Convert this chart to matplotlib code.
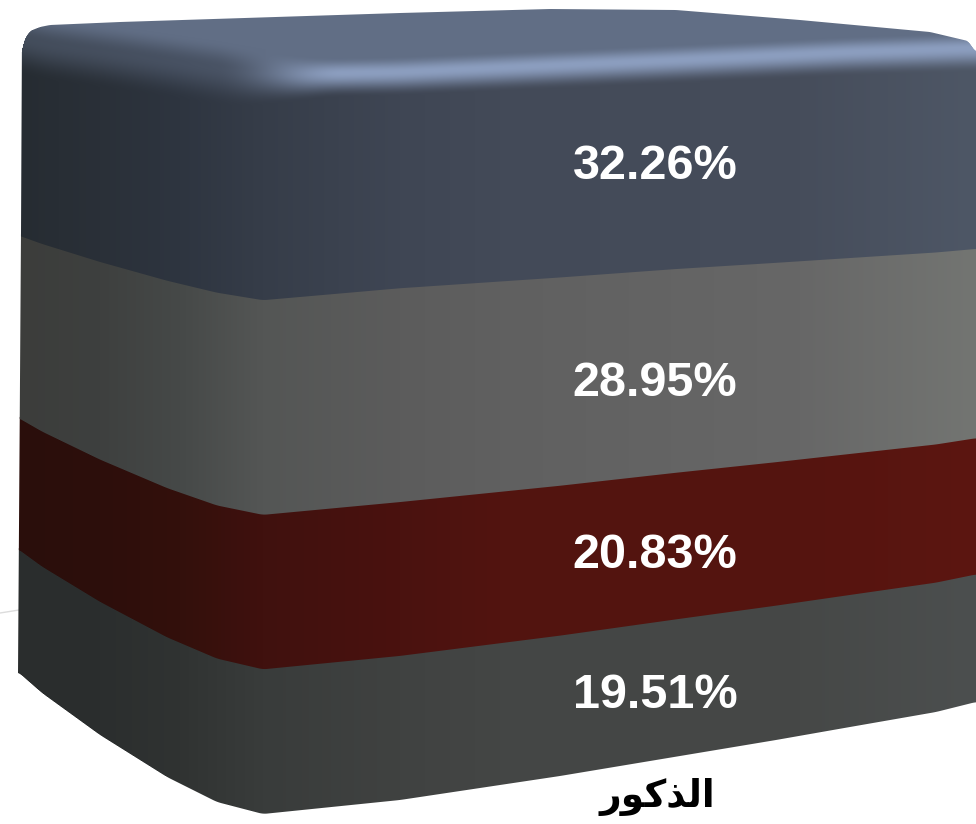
import numpy as np
import matplotlib
matplotlib.use('Agg')
import matplotlib.pyplot as plt
from matplotlib.colors import to_rgb

# bottom to top
series = ['s4', 's3', 's2', 's1']
values = [19.51, 20.83, 28.95, 32.26]
labels = ['19.51%', '20.83%', '28.95%', '32.26%']
# shaped arabic forms, in visual order because matplotlib does no shaping here
category = '\ufead\ufeee\ufedb\ufeac\ufedf\ufe8d'

W, H = 976, 824

# outline of the box in image pixels
bottom_x = [18, 42, 100, 167, 217, 263, 400, 560, 776, 850, 936, 976]
bottom_y = [672, 693, 735, 777, 802, 814, 800, 776, 740, 727, 712, 702]
top_x = [18, 263, 400, 676, 976]
top_y = [32, 61, 50, 42, 38]
back_x = [20, 22, 24, 30, 40, 50, 120, 400, 550, 676, 800, 930, 968, 976]
back_y = [60, 50, 40, 31, 27, 25, 22, 13, 9, 10, 20, 32, 41, 52]
ridge_x = [20, 40, 130, 240, 300, 400, 676, 850, 976]
ridge_y = [36, 42, 54, 70, 74, 72, 60, 52, 48]
left_y = [30, 232, 672]
left_x = [22, 21, 18]

# colour across the face, one list per segment
shade_x = [18, 100, 180, 263, 400, 500, 800, 976]
shades = [
    ['#2a2d2d', '#2b2e2e', '#303332', '#393c3b', '#404241', '#444645', '#464847', '#4c4f4f'],
    ['#2a0e0b', '#2d0e0b', '#33100c', '#40110e', '#4a120f', '#52140f', '#55140f', '#5c1611'],
    ['#3c3d3b', '#3e403f', '#464948', '#545655', '#5c5c5c', '#606060', '#676767', '#737572'],
    ['#262c32', '#2a3038', '#2e3540', '#363d49', '#3f4654', '#434a58', '#464d5b', '#4e5766'],
]
top_color = np.array(to_rgb('#616e85'))
shine_color = np.array(to_rgb('#8c9ebf'))


def smooth(t):
    t = np.clip(t, 0, 1)
    return t * t * (3 - 2 * t)


def soften(y, n=9):
    # takes the kinks out of the outline
    pad = np.pad(y, n // 2, mode='edge')
    return np.convolve(pad, np.ones(n) / n, mode='valid')


xs = np.arange(W) + 0.5
ys = np.arange(H) + 0.5
X, Y = np.meshgrid(xs, ys)

bottom = soften(np.interp(xs, bottom_x, bottom_y))
top = soften(np.interp(xs, top_x, top_y))
back = soften(np.interp(xs, back_x, back_y), 5)
ridge = soften(np.interp(xs, ridge_x, ridge_y), 31)
left = np.interp(ys, left_y, left_x)

total = sum(values)
cum = np.concatenate([[0], np.cumsum(values)]) / total

fig = plt.figure(figsize=(W / 100, H / 100), dpi=100)
ax = fig.add_axes([0, 0, 1, 1])
ax.set_xlim(0, W)
ax.set_ylim(H, 0)
ax.axis('off')

# faint floor line behind the box
ax.plot([0, 19], [613, 610], color='#dcdcdc', lw=1, zorder=1)

for i in range(len(values)):
    low = bottom + cum[i] * (top - bottom)
    # each segment runs a little under the next one up, so no pale seam shows
    high = bottom + cum[i + 1] * (top - bottom) - 2
    rgb = np.stack([np.interp(xs, shade_x, [to_rgb(c)[k] for c in shades[i]]) for k in range(3)], axis=-1)
    layer = np.repeat(rgb[None, :, :], H, axis=0)
    if i == len(values) - 1:
        # rounded top: flat lid, bright ridge, then down into the front face
        high = back
        d = Y - ridge[None, :]
        strength = smooth((X - 215) / 130)
        shine = (0.5 * (top_color + layer) * (1 - strength)[..., None]
                 + shine_color * strength[..., None])
        up_w = 16 + 10 * (1 - strength)
        down_w = 24 + 14 * (1 - strength)
        up = smooth((d + up_w) / up_w)[..., None]
        down = smooth(d / down_w)[..., None]
        lid = top_color * (1 - up) + shine * up
        layer = lid * (1 - down) + layer * down
    alpha = np.clip(Y - high[None, :] + 0.5, 0, 1) * np.clip(low[None, :] - Y + 0.5, 0, 1)
    alpha = alpha * np.clip(X - left[:, None] + 0.5, 0, 1)
    img = np.dstack([layer, alpha])
    ax.imshow(img, extent=(0, W, H, 0), interpolation='nearest', aspect='auto', zorder=2)

label_y = [696, 555, 383, 166]
for t, y in zip(labels, label_y):
    ax.text(655, y, t, color='white', fontsize=35, fontweight='bold', family='Liberation Sans',
            ha='center', va='center', zorder=3)

ax.text(657, 797, category, color='black', fontsize=27, fontweight='bold', family='DejaVu Sans',
        ha='center', va='center', zorder=3)

ax.set_xlim(0, W)
ax.set_ylim(H, 0)
fig.savefig('out.png', dpi=100)
